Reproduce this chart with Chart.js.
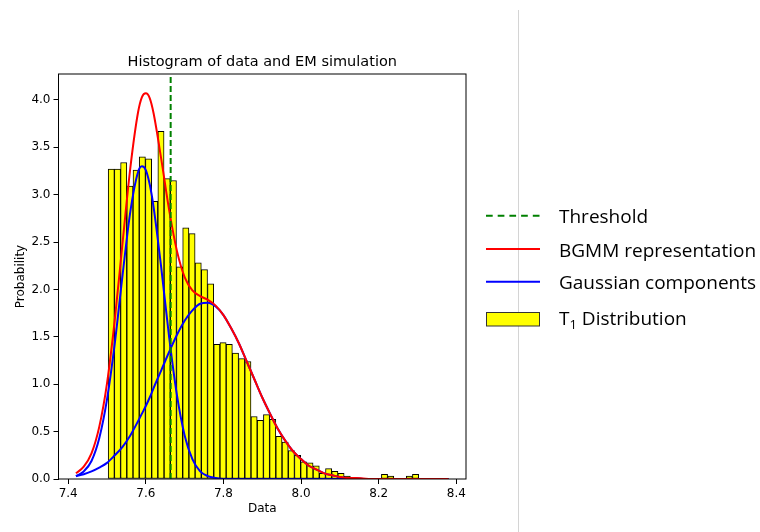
<!DOCTYPE html>
<html>
<head>
<meta charset="utf-8">
<script src="https://cdn.jsdelivr.net/npm/chart.js@4"></script>
<style>
  html, body { margin: 0; padding: 0; background: #fff; }
  #wrap { position: relative; width: 760px; height: 532px; }
  #chart, #legend { position: absolute; left: 0; top: 0; }
  #legend { pointer-events: none; }
  #legend text { font-family: 'Open Sans', sans-serif; font-size: 19px; fill: #000; }
</style>
</head>
<body>
<div id="wrap">
  <canvas id="chart" width="760" height="532"></canvas>
  <svg id="legend" width="760" height="532">
    <line x1="518.5" y1="10" x2="518.5" y2="532" stroke="#d4d4d4" stroke-width="1"/>
    <line x1="486" y1="215.7" x2="540" y2="215.7" stroke="#008000" stroke-width="2" stroke-dasharray="6.7,5"/>
    <line x1="486" y1="249" x2="540" y2="249" stroke="#ff0000" stroke-width="2"/>
    <line x1="486" y1="281.7" x2="540" y2="281.7" stroke="#0000ff" stroke-width="2"/>
    <rect x="486.5" y="312.5" width="53" height="13.5" fill="#ffff00" stroke="#333" stroke-width="1"/>
    <text x="559" y="223.3">Threshold</text>
    <text x="559" y="256.7">BGMM representation</text>
    <text x="559" y="289">Gaussian components</text>
    <text x="559" y="325">T<tspan font-size="13" dy="4">1</tspan><tspan dy="-4"> Distribution</tspan></text>
  </svg>
</div>
<script>
// ── DATA ──
// histogram: 50 equal bins starting at binStart
const binStart = 7.503;
const binWidth = 0.016;
const histHeights = [
  3.27, 3.27, 3.34, 3.09, 3.26, 3.40, 3.38, 2.93, 3.67, 3.17,
  3.15, 2.24, 2.65, 2.59, 2.28, 2.21, 2.06, 1.42, 1.44, 1.42,
  1.33, 1.27, 1.24, 0.66, 0.62, 0.68, 0.63, 0.45, 0.39, 0.30,
  0.25, 0.18, 0.17, 0.14, 0.06, 0.11, 0.08, 0.06, 0.03, 0,
  0, 0, 0, 0, 0.05, 0.03, 0, 0, 0.03, 0.05
];

// fitted curves
const curveX = [
  7.42, 7.44, 7.46, 7.48, 7.50, 7.52, 7.54, 7.56, 7.58, 7.59,
  7.60, 7.61, 7.62, 7.64, 7.66, 7.68, 7.70, 7.72, 7.74, 7.76,
  7.78, 7.80, 7.82, 7.84, 7.86, 7.88, 7.90, 7.92, 7.94, 7.96,
  7.98, 8.00, 8.02, 8.04, 8.06, 8.08, 8.10, 8.12, 8.14, 8.16,
  8.18, 8.20, 8.24, 8.28, 8.32, 8.36, 8.38
];
const bgmmY = [
  0.06, 0.13, 0.27, 0.55, 1.01, 1.68, 2.49, 3.28, 3.87, 4.03,
  4.07, 4.02, 3.86, 3.37, 2.84, 2.41, 2.13, 1.99, 1.93, 1.89,
  1.83, 1.73, 1.59, 1.43, 1.24, 1.05, 0.86, 0.69, 0.53, 0.40,
  0.29, 0.21, 0.14, 0.10, 0.06, 0.04, 0.02, 0.01, 0.01, 0.005,
  0, 0, 0, 0, 0, 0, 0
];
const comp1Y = [
  0.03, 0.08, 0.19, 0.43, 0.84, 1.43, 2.15, 2.82, 3.24, 3.30,
  3.26, 3.11, 2.87, 2.22, 1.50, 0.89, 0.46, 0.21, 0.08, 0.03,
  0.01, 0, 0, 0, 0, 0, 0, 0, 0, 0,
  0, 0, 0, 0, 0, 0, 0, 0, 0, 0,
  0, 0, 0, 0, 0, 0, 0
];
const comp2Y = [
  0.03, 0.05, 0.08, 0.12, 0.17, 0.25, 0.34, 0.46, 0.61, 0.69,
  0.77, 0.86, 0.96, 1.15, 1.34, 1.52, 1.67, 1.78, 1.85, 1.86,
  1.82, 1.73, 1.59, 1.43, 1.24, 1.05, 0.86, 0.69, 0.53, 0.40,
  0.29, 0.21, 0.14, 0.10, 0.06, 0.04, 0.02, 0.01, 0.01, 0,
  0, 0, 0, 0, 0, 0, 0
];
const threshold = 7.664;

const xTicks = [7.4, 7.6, 7.8, 8.0, 8.2, 8.4];
const yTicks = [0, 0.5, 1.0, 1.5, 2.0, 2.5, 3.0, 3.5, 4.0];
const xMin = 7.375, xMax = 8.425;
const yMax = 4.274;

// ── CHART ──
Chart.defaults.font.family = "'DejaVu Sans', sans-serif";
Chart.defaults.color = '#000';

const toPoints = ys => curveX.map((x, i) => ({ x: x, y: ys[i] }));

// box around the plot area (matplotlib spines)
const framePlugin = {
  id: 'frame',
  afterDatasetsDraw(chart) {
    const { ctx, chartArea: a } = chart;
    ctx.save();
    ctx.strokeStyle = '#000';
    ctx.lineWidth = 1;
    ctx.strokeRect(a.left, a.top, a.right - a.left, a.bottom - a.top);
    ctx.restore();
  }
};

const axisGrid = { drawOnChartArea: false, offset: false, tickLength: 5, tickColor: '#000', tickWidth: 1 };

new Chart(document.getElementById('chart'), {
  type: 'bar',
  data: {
    datasets: [
      {
        type: 'line',
        label: 'Threshold',
        data: [{ x: threshold, y: 0 }, { x: threshold, y: yMax }],
        borderColor: '#008000',
        borderWidth: 2,
        borderDash: [6, 3],
        pointRadius: 0,
        order: 1
      },
      {
        type: 'line',
        label: 'BGMM representation',
        data: toPoints(bgmmY),
        borderColor: '#ff0000',
        borderWidth: 2,
        pointRadius: 0,
        cubicInterpolationMode: 'monotone',
        order: 2
      },
      {
        type: 'line',
        label: 'Gaussian components',
        data: toPoints(comp1Y),
        borderColor: '#0000ff',
        borderWidth: 2,
        pointRadius: 0,
        cubicInterpolationMode: 'monotone',
        order: 3
      },
      {
        type: 'line',
        label: 'Gaussian components',
        data: toPoints(comp2Y),
        borderColor: '#0000ff',
        borderWidth: 2,
        pointRadius: 0,
        cubicInterpolationMode: 'monotone',
        order: 3
      },
      {
        label: 'T1 Distribution',
        data: histHeights.map((h, i) => ({ x: binStart + binWidth * (i + 0.5), y: h })),
        backgroundColor: '#ffff00',
        borderColor: '#000',
        borderWidth: 1,
        borderSkipped: false,
        barPercentage: 1,
        categoryPercentage: 1,
        grouped: false,
        order: 10
      }
    ]
  },
  options: {
    responsive: false,
    animation: false,
    devicePixelRatio: 1,
    layout: { padding: { left: 0, right: 294, top: 0, bottom: 0 } },
    plugins: {
      legend: { display: false },
      tooltip: { enabled: false },
      title: {
        display: true,
        text: 'Histogram of data and EM simulation',
        fullSize: false,
        font: { size: 14.5, weight: 'normal' },
        color: '#000',
        padding: { top: 54, bottom: 2.6 }
      }
    },
    scales: {
      x: {
        type: 'linear',
        min: xMin,
        max: xMax,
        offset: false,
        afterBuildTicks: s => { s.ticks = xTicks.map(v => ({ value: v })); },
        afterFit: s => { s.height = 53; },
        grid: axisGrid,
        border: { display: false },
        ticks: { callback: v => Number(v).toFixed(1), padding: 3, font: { size: 12 }, maxRotation: 0, autoSkip: false },
        title: { display: true, text: 'Data', font: { size: 12 }, padding: { top: 0, bottom: 16 } }
      },
      y: {
        min: 0,
        max: yMax,
        afterBuildTicks: s => { s.ticks = yTicks.map(v => ({ value: v })); },
        afterFit: s => { s.width = 58.5; },
        grid: axisGrid,
        border: { display: false },
        ticks: { callback: v => Number(v).toFixed(1), padding: 3, font: { size: 12 }, autoSkip: false },
        title: { display: true, text: 'Probability', font: { size: 12 }, padding: { top: 14, bottom: 0 } }
      }
    }
  },
  plugins: [framePlugin]
});
</script>
</body>
</html>
